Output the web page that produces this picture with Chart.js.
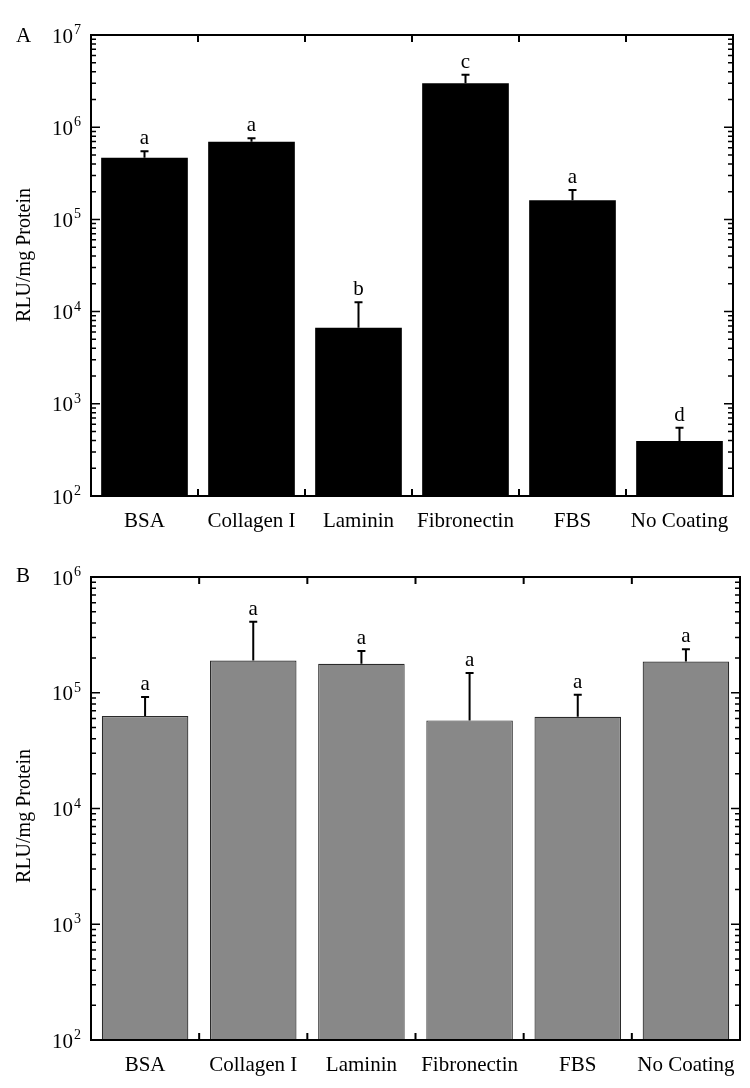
<!DOCTYPE html>
<html>
<head>
<meta charset="utf-8">
<script src="https://cdn.jsdelivr.net/npm/chart.js@4.4.1/dist/chart.umd.min.js"></script>
<style>
  body { margin: 0; background: #fff; }
  #wrap { position: relative; width: 750px; height: 1088px; }
  canvas { position: absolute; left: 0; }
</style>
</head>
<body>
<div id="wrap">
  <canvas id="chartA" width="750" height="544" style="top:0"></canvas>
  <canvas id="chartB" width="750" height="544" style="top:544px"></canvas>
</div>
<script>
// data
const categories = ['BSA', 'Collagen I', 'Laminin', 'Fibronectin', 'FBS', 'No Coating'];

const meansA   = [4.65e5, 6.95e5, 6.7e3, 3.0e6, 1.61e5, 395];
const errTopA  = [5.5e5, 7.6e5, 1.26e4, 3.7e6, 2.08e5, 550];
const lettersA = ['a', 'a', 'b', 'c', 'a', 'd'];

const meansB   = [6.3e4, 1.9e5, 1.78e5, 5.77e4, 6.2e4, 1.86e5];
const errTopB  = [9.2e4, 4.1e5, 2.3e5, 1.48e5, 9.6e4, 2.38e5];
const lettersB = ['a', 'a', 'a', 'a', 'a', 'a'];

const SERIF = '"Liberation Serif", "DejaVu Serif", serif';

// error bars, letters, frame, inward ticks, axis labels
const decor = {
  id: 'decor',
  afterDatasetsDraw(chart, args, o) {
    const { ctx, scales: { y } } = chart;
    const meta = chart.getDatasetMeta(0);
    ctx.save();
    ctx.strokeStyle = '#000';
    ctx.fillStyle = '#000';
    ctx.lineWidth = 2;
    o.errTop.forEach((v, i) => {
      const bar = meta.data[i];
      const yt = y.getPixelForValue(v);
      ctx.beginPath();
      ctx.moveTo(bar.x, bar.y);
      ctx.lineTo(bar.x, yt);
      ctx.moveTo(bar.x - 4, yt);
      ctx.lineTo(bar.x + 4, yt);
      ctx.stroke();
      ctx.font = '21px ' + SERIF;
      ctx.textAlign = 'center';
      ctx.textBaseline = 'alphabetic';
      ctx.fillText(o.letters[i], bar.x, yt - 7);
    });
    ctx.restore();
  },
  afterDraw(chart, args, o) {
    const { ctx, chartArea: a, scales: { x, y } } = chart;
    ctx.save();
    ctx.strokeStyle = '#000';
    ctx.fillStyle = '#000';
    ctx.lineWidth = 2;
    ctx.strokeRect(a.left, a.top, a.right - a.left, a.bottom - a.top);

    // category boundary ticks, top and bottom, plus category names
    ctx.beginPath();
    for (let i = 1; i < categories.length; i++) {
      const bx = (x.getPixelForValue(i - 1) + x.getPixelForValue(i)) / 2;
      ctx.moveTo(bx, a.top); ctx.lineTo(bx, a.top + 7);
      ctx.moveTo(bx, a.bottom); ctx.lineTo(bx, a.bottom - 7);
    }
    ctx.stroke();
    ctx.font = '21px ' + SERIF;
    ctx.textAlign = 'center';
    ctx.textBaseline = 'middle';
    categories.forEach((c, i) => ctx.fillText(c, x.getPixelForValue(i), a.bottom + 25));

    // log ticks on both sides
    const e0 = Math.round(Math.log10(y.min)), e1 = Math.round(Math.log10(y.max));
    ctx.lineWidth = 1.5;
    ctx.beginPath();
    for (let e = e0; e <= e1; e++) {
      for (let m = 1; m <= 9; m++) {
        const v = m * Math.pow(10, e);
        if (v > y.max * 1.0001) break;
        const py = y.getPixelForValue(v);
        const len = m === 1 ? 9 : 5;
        ctx.moveTo(a.left, py); ctx.lineTo(a.left + len, py);
        ctx.moveTo(a.right, py); ctx.lineTo(a.right - len, py);
      }
      const py = y.getPixelForValue(Math.pow(10, e));
      ctx.font = '21px ' + SERIF;
      ctx.textAlign = 'right';
      ctx.textBaseline = 'middle';
      ctx.fillText('10', a.left - 18, py + 2);
      ctx.font = '14px ' + SERIF;
      ctx.textAlign = 'left';
      ctx.textBaseline = 'alphabetic';
      ctx.fillText(String(e), a.left - 17, py - 1);
    }
    ctx.stroke();

    // axis title
    ctx.save();
    ctx.translate(25, o.titleY);
    ctx.rotate(-Math.PI / 2);
    ctx.font = '20px ' + SERIF;
    ctx.textAlign = 'center';
    ctx.textBaseline = 'middle';
    ctx.fillText('RLU/mg Protein', 0, 0);
    ctx.restore();

    // panel letter
    ctx.font = '21px ' + SERIF;
    ctx.textAlign = 'left';
    ctx.textBaseline = 'middle';
    ctx.fillText(o.panel, 16, o.panelY);
    ctx.restore();
  }
};

function makeChart(id, means, errTop, letters, cfg) {
  return new Chart(document.getElementById(id), {
    type: 'bar',
    data: {
      labels: categories,
      datasets: [{
        data: means,
        backgroundColor: cfg.color,
        borderColor: cfg.border,
        borderWidth: cfg.borderWidth,
        borderSkipped: 'bottom',
        barPercentage: cfg.barPct,
        categoryPercentage: 1.0
      }]
    },
    options: {
      responsive: false,
      animation: false,
      layout: { padding: cfg.padding },
      plugins: {
        legend: { display: false },
        tooltip: { enabled: false },
        decor: { errTop, letters, panel: cfg.panel, panelY: cfg.panelY, titleY: cfg.titleY }
      },
      scales: {
        x: {
          grid: { display: false, drawTicks: false },
          border: { display: false },
          ticks: { display: false },
          afterFit: s => { s.height = 0; }
        },
        y: {
          type: 'logarithmic',
          min: cfg.min, max: cfg.max,
          grid: { display: false, drawTicks: false },
          border: { display: false },
          ticks: { display: false },
          afterFit: s => { s.width = 0; }
        }
      }
    },
    plugins: [decor]
  });
}

makeChart('chartA', meansA, errTopA, lettersA, {
  color: '#000', border: '#000', borderWidth: 0, barPct: 0.81,
  min: 1e2, max: 1e7,
  padding: { left: 91, right: 17, top: 35, bottom: 48 },
  panel: 'A', panelY: 36, titleY: 255
});

makeChart('chartB', meansB, errTopB, lettersB, {
  color: '#888888', border: '#2a2a2a', borderWidth: 1.2, barPct: 0.8,
  min: 1e2, max: 1e6,
  padding: { left: 91, right: 10, top: 33, bottom: 48 },
  panel: 'B', panelY: 32, titleY: 272
});
</script>
</body>
</html>
